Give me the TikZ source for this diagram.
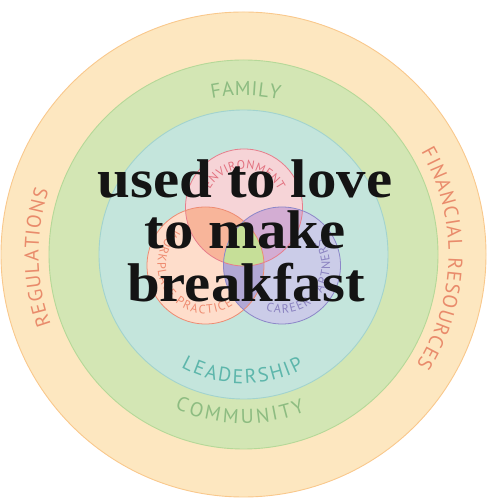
\documentclass[tikz,border=0pt]{standalone}
\usepackage{fontspec}
\usetikzlibrary{decorations.text}
\newfontfamily\lblfont{PT Sans}
\newfontfamily\bigfont{Liberation Serif}
\definecolor{outerfill}{HTML}{FDE7C0}
\definecolor{outerline}{HTML}{F9C88C}
\definecolor{greenfill}{HTML}{D3E6B4}
\definecolor{greenline}{HTML}{B5D898}
\definecolor{tealfill}{HTML}{C4E5DC}
\definecolor{tealline}{HTML}{A2D3CE}
\definecolor{pinkfill}{HTML}{F6D4D7}
\definecolor{pinkline}{HTML}{E77D8B}
\definecolor{orangefill}{HTML}{FEDDCB}
\definecolor{orangeline}{HTML}{EE8B72}
\definecolor{purplefill}{HTML}{CBCCE8}
\definecolor{purpleline}{HTML}{8C86C8}
\definecolor{pofill}{HTML}{F8B59A}
\definecolor{ppfill}{HTML}{D3ADD3}
\definecolor{opfill}{HTML}{B2A8D5}
\definecolor{centerfill}{HTML}{C6DF98}
\definecolor{regc}{HTML}{E98B6B}
\definecolor{famc}{HTML}{8DBC81}
\definecolor{leadc}{HTML}{5DB6AB}
\definecolor{envc}{HTML}{E2717F}
\definecolor{workc}{HTML}{EE8B70}
\definecolor{carc}{HTML}{8A82C0}
\newcommand{\ringfont}{\lblfont\fontsize{20}{20}\selectfont}
\newcommand{\vennfont}{\lblfont\fontsize{12.2}{12.2}\selectfont}
\tikzset{
  arclabel/.style n args={2}{decorate,decoration={text along path,text={|#1|#2},text align=fit to path}},
  bigtext/.style={font=\bigfont\bfseries\fontsize{54.5}{54.5}\selectfont,text=black!92,anchor=base,inner sep=0pt,xscale=1.08}
}
\begin{document}
\begin{tikzpicture}[x=1pt,y=1pt,line width=0.9pt]
\useasboundingbox (0,0) rectangle (487,500);
\coordinate (O) at (243.5,245.5);
\coordinate (P) at (244,292.5);
\coordinate (Q) at (205.5,234.5);
\coordinate (R) at (282,234.5);
% rings
\filldraw[fill=outerfill,draw=outerline] (O) circle[radius=242.5];
\filldraw[fill=greenfill,draw=greenline] (O) circle[radius=194.5];
\filldraw[fill=tealfill,draw=tealline] (O) circle[radius=144.5];
% venn fills
\fill[pinkfill] (P) circle[radius=58.5];
\fill[orangefill] (Q) circle[radius=58.5];
\fill[purplefill] (R) circle[radius=58.5];
\begin{scope}\clip (P) circle[radius=58.5]; \fill[pofill] (Q) circle[radius=58.5];\end{scope}
\begin{scope}\clip (P) circle[radius=58.5]; \fill[ppfill] (R) circle[radius=58.5];\end{scope}
\begin{scope}\clip (Q) circle[radius=58.5]; \fill[opfill] (R) circle[radius=58.5];\end{scope}
\begin{scope}\clip (P) circle[radius=58.5]; \clip (Q) circle[radius=58.5]; \fill[centerfill] (R) circle[radius=58.5];\end{scope}
\draw[pinkline,line width=0.8pt] (P) circle[radius=58.5];
\draw[orangeline,line width=0.8pt] (Q) circle[radius=58.5];
\draw[purpleline,line width=0.8pt] (R) circle[radius=58.5];
% ring labels
\begin{scope}[shift={(O)}]
\path[arclabel={\ringfont\color{famc}}{FAMILY}] (101.5:159) arc[start angle=101.5,end angle=77,radius=159];
\path[arclabel={\ringfont\color{famc}}{COMMUNITY}] (246:169) arc[start angle=246,end angle=291.5,radius=169];
\path[arclabel={\ringfont\color{leadc}}{LEADERSHIP}] (241:129) arc[start angle=241,end angle=298,radius=129];
\path[arclabel={\ringfont\color{regc}}{REGULATIONS}] (200:205) arc[start angle=200,end angle=161.7,radius=205];
\path[arclabel={\ringfont\color{regc}}{FINANCIAL RESOURCES}] (30:205) arc[start angle=30,end angle=-32.5,radius=205];
\end{scope}
% venn labels
\begin{scope}[shift={(P)}]
\path[arclabel={\vennfont\color{envc}}{ENVIRONMENT}] (152:38.5) arc[start angle=152,end angle=26,radius=38.5];
\end{scope}
\begin{scope}[shift={(Q)}]
\path[arclabel={\vennfont\color{workc}}{WORKPLACE PRACTICE}] (130:48) arc[start angle=130,end angle=305,radius=48];
\end{scope}
\begin{scope}[shift={(R)}]
\path[arclabel={\vennfont\color{carc}}{CAREER PARTNERS}] (250:48) arc[start angle=250,end angle=394,radius=48];
\end{scope}
% big text
\node[bigtext] (line1) at (245,302) {used to love};
\node[bigtext] (line2) at (245,251) {to make};
\node[bigtext] (line3) at (246,198) {breakfast};
\end{tikzpicture}
\end{document}
